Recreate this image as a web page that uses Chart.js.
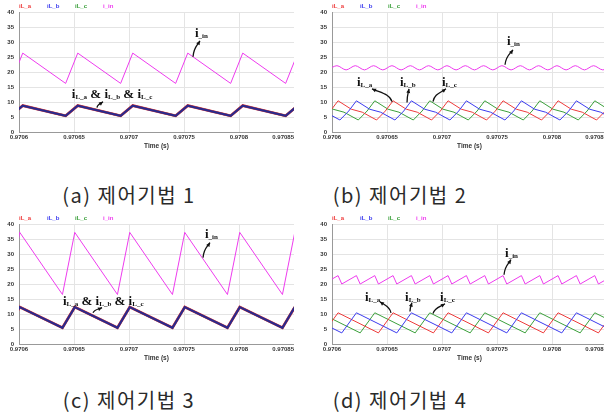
<!DOCTYPE html>
<html>
<head>
<meta charset="utf-8">
<script src="https://cdn.jsdelivr.net/npm/chart.js@4.4.1/dist/chart.umd.min.js"></script>
<style>
  html, body { margin: 0; padding: 0; background: #fff; }
  body { width: 604px; height: 415px; overflow: hidden; position: relative; }
  canvas { position: absolute; }
  .cap { position: absolute; width: 220px; text-align: center; font-family: "Noto Sans CJK KR"; font-size: 20px; letter-spacing: 1.5px; line-height: 20px; color: #2a2a2a; }
</style>
</head>
<body>
<canvas id="pa" width="294" height="160" style="left:0;top:0"></canvas>
<canvas id="pb" width="294" height="160" style="left:313px;top:0"></canvas>
<canvas id="pc" width="294" height="160" style="left:0;top:212px"></canvas>
<canvas id="pd" width="294" height="160" style="left:313px;top:212px"></canvas>
<div class="cap" style="left:19px;top:185px">(a) 제어기법 1</div>
<div class="cap" style="left:290px;top:185px">(b) 제어기법 2</div>
<div class="cap" style="left:19px;top:390px">(c) 제어기법 3</div>
<div class="cap" style="left:290px;top:390px">(d) 제어기법 4</div>
<script>
// time is in microseconds after 0.9706 s
const xTickValues = [0, 50, 100, 150, 200, 250];
const xTickLabels = ["0.9706", "0.97065", "0.9707", "0.97075", "0.9708", "0.97085"];
const legendNames = ["iL_a", "iL_b", "iL_c", "i_in"];
const legendColors = ["#ee3b3b", "#3b3bee", "#3ba03b", "#ee3bee"];

// (a) control 1 : all three phase currents the same
const aTime = [-7.6, 3.4, 42.4, 53.4, 92.4, 103.4, 142.4, 153.4, 192.4, 203.4, 242.4, 253.4];
const aIin = [16.2, 26.3, 16.2, 26.3, 16.2, 26.3, 16.2, 26.3, 16.2, 26.3, 16.2, 26.3];
const aIL = [5.4, 8.8, 5.4, 8.8, 5.4, 8.8, 5.4, 8.8, 5.4, 8.8, 5.4, 8.8];

// (b) control 2
const bTimeA = [-9.5, -1.5, 5.5, 17.5, 27.5, 40.5, 48.5, 55.5, 67.5, 77.5, 90.5, 98.5, 105.5, 117.5, 127.5,
  140.5, 148.5, 155.5, 167.5, 177.5, 190.5, 198.5, 205.5, 217.5, 227.5, 240.5, 248.5, 255.5];
const bIa = [4.0, 7.0, 10.4, 7.6, 6.6, 4.0, 7.0, 10.4, 7.6, 6.6, 4.0, 7.0, 10.4, 7.6, 6.6,
  4.0, 7.0, 10.4, 7.6, 6.6, 4.0, 7.0, 10.4, 7.6, 6.6, 4.0, 7.0, 10.4];
const bTimeB = [-15.8, -5.8, 7.2, 15.2, 22.2, 34.2, 44.2, 57.2, 65.2, 72.2, 84.2, 94.2, 107.2, 115.2, 122.2,
  134.2, 144.2, 157.2, 165.2, 172.2, 184.2, 194.2, 207.2, 215.2, 222.2, 234.2, 244.2, 257.2];
const bIb = [7.6, 6.6, 4.0, 7.0, 10.4, 7.6, 6.6, 4.0, 7.0, 10.4, 7.6, 6.6, 4.0, 7.0, 10.4,
  7.6, 6.6, 4.0, 7.0, 10.4, 7.6, 6.6, 4.0, 7.0, 10.4, 7.6, 6.6, 4.0];
const bTimeC = [-18.1, -11.1, 0.9, 10.9, 23.9, 31.9, 38.9, 50.9, 60.9, 73.9, 81.9, 88.9, 100.9, 110.9, 123.9,
  131.9, 138.9, 150.9, 160.9, 173.9, 181.9, 188.9, 200.9, 210.9, 223.9, 231.9, 238.9, 250.9];
const bIc = [7.0, 10.4, 7.6, 6.6, 4.0, 7.0, 10.4, 7.6, 6.6, 4.0, 7.0, 10.4, 7.6, 6.6, 4.0,
  7.0, 10.4, 7.6, 6.6, 4.0, 7.0, 10.4, 7.6, 6.6, 4.0, 7.0, 10.4, 7.6];
const bTimeIn = [-3.9, 4.5, 12.8, 21.2, 29.5, 37.8, 46.2, 54.5, 62.8, 71.2, 79.5, 87.8, 96.2, 104.5, 112.8, 121.2,
  129.5, 137.8, 146.2, 154.5, 162.8, 171.2, 179.5, 187.8, 196.2, 204.5, 212.8, 221.2, 229.5, 237.8, 246.2, 254.5];
const bIin = [20.7, 22.1, 20.7, 22.1, 20.7, 22.1, 20.7, 22.1, 20.7, 22.1, 20.7, 22.1, 20.7, 22.1, 20.7, 22.1,
  20.7, 22.1, 20.7, 22.1, 20.7, 22.1, 20.7, 22.1, 20.7, 22.1, 20.7, 22.1, 20.7, 22.1, 20.7, 22.1];

// (c) control 3
const cTime = [-10.5, 0.7, 39.5, 50.7, 89.5, 100.7, 139.5, 150.7, 189.5, 200.7, 239.5, 250.7];
const cIin = [16.5, 37.2, 16.5, 37.2, 16.5, 37.2, 16.5, 37.2, 16.5, 37.2, 16.5, 37.2];
const cIL = [5.4, 12.3, 5.4, 12.3, 5.4, 12.3, 5.4, 12.3, 5.4, 12.3, 5.4, 12.3];

// (d) control 4
const dTimeA = [-7.8, 5.5, 42.2, 55.5, 92.2, 105.5, 142.2, 155.5, 192.2, 205.5, 242.2, 255.5];
const dIa = [3.7, 10.4, 3.7, 10.4, 3.7, 10.4, 3.7, 10.4, 3.7, 10.4, 3.7, 10.4];
const dTimeB = [-27.8, 8.9, 22.2, 58.9, 72.2, 108.9, 122.2, 158.9, 172.2, 208.9, 222.2, 258.9];
const dIb = [10.4, 3.7, 10.4, 3.7, 10.4, 3.7, 10.4, 3.7, 10.4, 3.7, 10.4, 3.7];
const dTimeC = [-24.4, -11.1, 25.6, 38.9, 75.6, 88.9, 125.6, 138.9, 175.6, 188.9, 225.6, 238.9, 275.6];
const dIc = [3.7, 10.4, 3.7, 10.4, 3.7, 10.4, 3.7, 10.4, 3.7, 10.4, 3.7, 10.4, 3.7];
const dTimeIn = [-7.8, 5.5, 8.9, 22.2, 25.6, 38.9, 42.2, 55.5, 58.9, 72.2, 75.6, 88.9, 92.2, 105.5, 108.9, 122.2,
  125.6, 138.9, 142.2, 155.5, 158.9, 172.2, 175.6, 188.9, 192.2, 205.5, 208.9, 222.2, 225.6, 238.9, 242.2, 255.5];
const dIin = [20.0, 22.8, 20.0, 22.8, 20.0, 22.8, 20.0, 22.8, 20.0, 22.8, 20.0, 22.8, 20.0, 22.8, 20.0, 22.8,
  20.0, 22.8, 20.0, 22.8, 20.0, 22.8, 20.0, 22.8, 20.0, 22.8, 20.0, 22.8, 20.0, 22.8, 20.0, 22.8];

function series(times, values) {
  return times.map((t, i) => ({ x: t, y: values[i] }));
}

// "i{L_a}" -> big "i", small "L_a"
function richText(ctx, x, y, str) {
  str.split(/(\{[^}]*\})/).filter(Boolean).forEach((tok) => {
    const small = tok[0] === "{";
    const txt = small ? tok.slice(1, -1) : tok;
    ctx.font = small ? "bold 7px 'Liberation Serif'" : "bold 13px 'Liberation Serif'";
    ctx.fillText(txt, x, small ? y + 1 : y);
    x += ctx.measureText(txt).width;
  });
}

function arrow(ctx, x1, y1, x2, y2) {
  const dx = x2 - x1, dy = y2 - y1;
  const c1x = x1 + dx * 0.1, c1y = y1 + dy * 0.6;
  const c2x = x1 + dx * 0.6, c2y = y1 + dy * 0.7;
  ctx.beginPath();
  ctx.moveTo(x1, y1);
  ctx.bezierCurveTo(c1x, c1y, c2x, c2y, x2, y2);
  ctx.stroke();
  const ang = Math.atan2(y2 - c2y, x2 - c2x);
  const h = 4.5, w = 0.45;
  ctx.beginPath();
  ctx.moveTo(x2, y2);
  ctx.lineTo(x2 - h * Math.cos(ang - w), y2 - h * Math.sin(ang - w));
  ctx.lineTo(x2 - h * Math.cos(ang + w), y2 - h * Math.sin(ang + w));
  ctx.closePath();
  ctx.fill();
}

const notesPlugin = {
  id: "notes",
  afterDraw(chart, args, opts) {
    const ctx = chart.ctx, area = chart.chartArea;
    const xs = chart.scales.x, ys = chart.scales.y;
    ctx.save();
    ctx.font = "bold 6px 'Liberation Sans'";
    ctx.textBaseline = "middle";
    legendNames.forEach((n, i) => {
      ctx.fillStyle = legendColors[i];
      ctx.fillText(n, area.left + i * 28, 6);
    });
    ctx.fillStyle = "#111";
    ctx.strokeStyle = "#111";
    ctx.lineWidth = 1.3;
    ctx.textBaseline = "alphabetic";
    (opts.labels || []).forEach((l) => {
      richText(ctx, xs.getPixelForValue(l.x), ys.getPixelForValue(l.y) + 4, l.text);
    });
    (opts.arrows || []).forEach((a) => {
      arrow(ctx, xs.getPixelForValue(a[0]), ys.getPixelForValue(a[1]), xs.getPixelForValue(a[2]), ys.getPixelForValue(a[3]));
    });
    ctx.restore();
  }
};

const tickFont = { size: 6, weight: "bold", family: "Liberation Sans" };

function makeChart(id, datasets, notes) {
  new Chart(document.getElementById(id), {
    type: "line",
    data: { datasets: datasets },
    options: {
      responsive: false,
      animation: false,
      events: [],
      layout: { padding: { top: 12, left: 0, right: 0, bottom: 0 } },
      elements: { point: { radius: 0 }, line: { tension: 0 } },
      plugins: { legend: { display: false }, tooltip: { enabled: false }, notes: notes },
      scales: {
        x: {
          type: "linear",
          min: 0,
          max: 250,
          afterBuildTicks: (s) => {
            s.ticks = [{ value: -1000 }].concat(xTickValues.map((v) => ({ value: v })));
          },
          afterFit: (s) => {
            s.height = 28;
            s.paddingLeft = 0;
            s.paddingRight = 0;
          },
          ticks: {
            autoSkip: false,
            align: "inner",
            maxRotation: 0,
            padding: 2,
            color: "#333",
            font: tickFont,
            callback: (v) => {
              const i = xTickValues.indexOf(v);
              return i < 0 ? "" : xTickLabels[i];
            },
          },
          grid: { color: "#e4e4e4", drawTicks: false },
          border: { color: "#999" },
          title: {
            display: true,
            text: "Time (s)",
            color: "#333",
            font: { size: 6.5, weight: "bold", family: "Liberation Sans" },
            padding: { top: 0, bottom: 10 },
          },
        },
        y: {
          min: 0,
          max: 40,
          afterFit: (s) => {
            s.width = 19;
            s.paddingTop = 0;
            s.paddingBottom = 0;
          },
          ticks: { stepSize: 5, padding: 5, color: "#333", font: tickFont },
          grid: { color: "#e4e4e4", drawTicks: false },
          border: { color: "#999" },
        },
      },
    },
    plugins: [notesPlugin],
  });
}

function lineSet(label, data, color, width, order) {
  return { label: label, data: data, borderColor: color, borderWidth: width, order: order };
}

makeChart("pa", [
  lineSet("iL_a", series(aTime, aIL), "#ee3b3b", 2.8, 2),
  lineSet("iL_b", series(aTime, aIL), "#2a2a8c", 2.2, 1),
  lineSet("iL_c", series(aTime, aIL), "#3ba03b", 2, 3),
  lineSet("i_in", series(aTime, aIin), "#ee3bee", 1, 0),
], {
  labels: [{ x: 160, y: 33.1, text: "i{_in}" }, { x: 48, y: 12.8, text: "i{L_a} & i{L_b} & i{L_c}" }],
  arrows: [[158.2, 25.1, 164.5, 30.4], [70.9, 8.1, 76.4, 10.1]],
});

makeChart("pb", [
  lineSet("iL_a", series(bTimeA, bIa), "#ee3b3b", 1, 2),
  lineSet("iL_b", series(bTimeB, bIb), "#3b3bee", 1, 1),
  lineSet("iL_c", series(bTimeC, bIc), "#3ba03b", 1, 3),
  Object.assign(lineSet("i_in", series(bTimeIn, bIin), "#ee3bee", 1, 0), { tension: 0.3 }),
], {
  labels: [{ x: 159, y: 30.4, text: "i{_in}" }, { x: 22.7, y: 16.8, text: "i{L_a}" },
    { x: 61.8, y: 16.8, text: "i{L_b}" }, { x: 100, y: 16.8, text: "i{L_c}" }],
  arrows: [[157.3, 22.4, 164.5, 27.4], [54.5, 10.1, 36.4, 14.4], [68.2, 9.8, 70, 14.4], [91.8, 10.1, 103.6, 14.4]],
});

makeChart("pc", [
  lineSet("iL_a", series(cTime, cIL), "#ee3b3b", 2.8, 2),
  lineSet("iL_b", series(cTime, cIL), "#2a2a8c", 2.2, 1),
  lineSet("iL_c", series(cTime, cIL), "#3ba03b", 2, 3),
  lineSet("i_in", series(cTime, cIin), "#ee3bee", 1, 0),
], {
  labels: [{ x: 169, y: 36.6, text: "i{_in}" }, { x: 40, y: 14.4, text: "i{L_a} & i{L_b} & i{L_c}" }],
  arrows: [[167.3, 28.8, 173.6, 33.8], [67.3, 10.4, 75.5, 12.1]],
});

makeChart("pd", [
  lineSet("iL_a", series(dTimeA, dIa), "#ee3b3b", 1, 2),
  lineSet("iL_b", series(dTimeB, dIb), "#3b3bee", 1, 1),
  lineSet("iL_c", series(dTimeC, dIc), "#3ba03b", 1, 3),
  lineSet("i_in", series(dTimeIn, dIin), "#ee3bee", 1, 0),
], {
  labels: [{ x: 157.3, y: 30.3, text: "i{_in}" }, { x: 30, y: 15.6, text: "i{L_a}" },
    { x: 66.4, y: 15.6, text: "i{L_b}" }, { x: 98.2, y: 15.6, text: "i{L_c}" }],
  arrows: [[156.4, 23.1, 162.7, 28.1], [53.6, 10.4, 43.6, 14.1], [70.9, 10.8, 72.7, 13.8], [91.8, 10.1, 102.7, 13.4]],
});
</script>
</body>
</html>
